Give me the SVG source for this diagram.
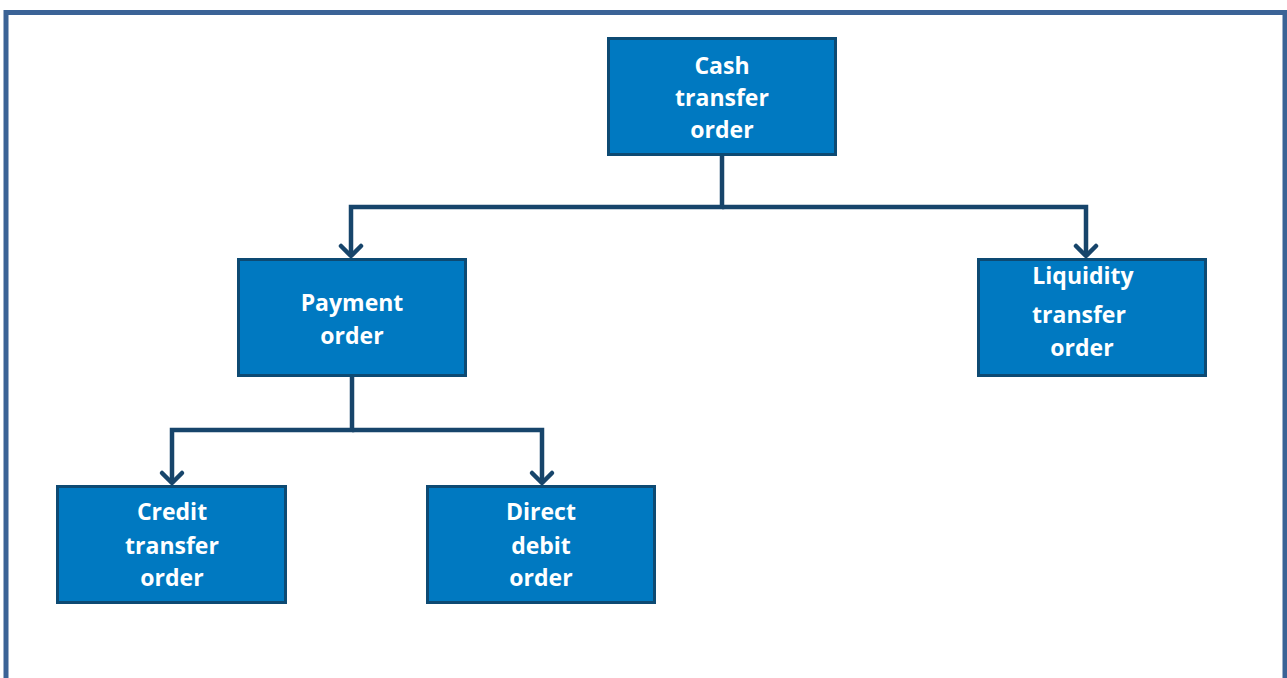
<svg xmlns="http://www.w3.org/2000/svg" width="1287" height="678" viewBox="0 0 1287 678">
<style>
.box{fill:#0079C1;stroke:#0D4A73;stroke-width:3}
.lbl{font-family:"Open Sans","Liberation Sans",sans-serif;font-weight:bold;font-size:23px;fill:#fff;text-anchor:middle}
.conn{fill:none;stroke:#17456B;stroke-width:4.5;stroke-linejoin:miter}
</style>
<defs>
<marker id="arr" markerUnits="userSpaceOnUse" markerWidth="30" markerHeight="30" refX="15" refY="15" orient="auto" viewBox="0 0 30 30">
<path d="M5,5 L15,15 L5,25" fill="none" stroke="#17456B" stroke-width="4.5" stroke-linecap="round" stroke-linejoin="round"/>
</marker>
</defs>
<rect x="0" y="0" width="1287" height="678" fill="#fff"/>
<rect x="6" y="12.5" width="1279" height="700" fill="none" stroke="#3B6396" stroke-width="5"/>
<g id="connectors">
<path class="conn" d="M722,155 V207 H351 V256" marker-end="url(#arr)"/>
<path class="conn" d="M722,207 H1086 V256" marker-end="url(#arr)"/>
<path class="conn" d="M352,376 V430 H172 V483" marker-end="url(#arr)"/>
<path class="conn" d="M352,430 H542 V483" marker-end="url(#arr)"/>
</g>
<g id="cash">
<rect class="box" x="608.5" y="38.5" width="227" height="116"/>
<text class="lbl" x="722" y="74">Cash</text>
<text class="lbl" x="722" y="106">transfer</text>
<text class="lbl" x="722" y="138">order</text>
</g>
<g id="payment">
<rect class="box" x="238.5" y="259.5" width="227" height="116"/>
<text class="lbl" x="352" y="311">Payment</text>
<text class="lbl" x="352" y="344">order</text>
</g>
<g id="liquidity">
<rect class="box" x="978.5" y="259.5" width="227" height="116"/>
<text class="lbl" x="1083" y="284">Liquidity</text>
<text class="lbl" x="1079" y="323">transfer</text>
<text class="lbl" x="1082" y="356">order</text>
</g>
<g id="credit">
<rect class="box" x="57.5" y="486.5" width="228" height="116"/>
<text class="lbl" x="172" y="520">Credit</text>
<text class="lbl" x="172" y="554">transfer</text>
<text class="lbl" x="172" y="586">order</text>
</g>
<g id="direct">
<rect class="box" x="427.5" y="486.5" width="227" height="116"/>
<text class="lbl" x="541" y="520">Direct</text>
<text class="lbl" x="541" y="554">debit</text>
<text class="lbl" x="541" y="586">order</text>
</g>
</svg>
